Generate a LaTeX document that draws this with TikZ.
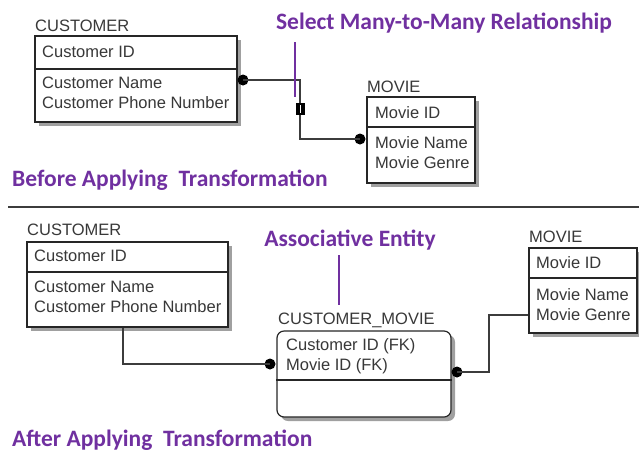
\documentclass[tikz,border=0pt]{standalone}
\usepackage{fontspec}
\setmainfont{Liberation Sans}
\newfontfamily\notefont{Carlito}
\usepackage{xcolor}
\usetikzlibrary{positioning,calc}
\definecolor{ink}{HTML}{262626}
\definecolor{wire}{HTML}{3C3C3C}
\definecolor{txtgray}{HTML}{383838}
\definecolor{notepurple}{HTML}{7030A0}
\definecolor{shadowgray}{HTML}{A0A0A0}
\tikzset{
  entbox/.style={draw=ink,fill=white,line width=1.2pt,inner sep=0pt,
                 preaction={fill=shadowgray,
                            transform canvas={xshift=4pt,yshift=-4pt}}},
  assocbox/.style={entbox,rounded corners=7pt},
  entname/.style={anchor=west,inner sep=0pt,text=txtgray,
                  font=\fontsize{16.5}{20}\selectfont},
  attr/.style={anchor=west,inner sep=0pt,text=txtgray,align=left,
               font=\fontsize{16.5}{20}\selectfont},
  divline/.style={draw=ink,line width=1.2pt},
  relline/.style={draw=wire,line width=1.4pt},
  fkdot/.style={circle,fill=black,inner sep=0pt,minimum size=11pt},
  optbar/.style={fill=black,inner sep=0pt,minimum width=9pt,minimum height=12pt},
  note/.style={text=notepurple,inner sep=0pt,
               font=\notefont\bfseries\fontsize{23.5}{28}\selectfont},
  noteline/.style={draw=notepurple,line width=1.2pt}
}
\begin{document}
\begin{tikzpicture}[x=1pt,y=-1pt]
    \path[use as bounding box] (0,0) rectangle (639,451);
    % before
    \node[entbox,minimum width=202pt,minimum height=86pt] (custA) at (136,79) {};
    \node[entname] (custAname) at (35,26) {CUSTOMER};
    \draw[divline] (custA.west |- 0,69) -- (custA.east |- 0,69);
    \node[attr] (custAkey) at (42,52) {Customer ID};
    \node[attr] (custAattr) at (42,93) {Customer Name\\Customer Phone Number};
    \node[entbox,minimum width=108pt,minimum height=86pt] (movieA) at (421,140) {};
    \node[entname] (movieAname) at (367,87) {MOVIE};
    \draw[divline] (movieA.west |- 0,127) -- (movieA.east |- 0,127);
    \node[attr] (movieAkey) at (375,113) {Movie ID};
    \node[attr] (movieAattr) at (375,153) {Movie Name\\Movie Genre};
    \node[fkdot] (dotA) at (243,80) {};
    \node[fkdot] (dotB) at (360,139) {};
    \coordinate (bendA) at (300,80);
    \draw[relline] (dotA.center) -- (bendA) |- (dotB.center);
    \node[optbar] (optA) at (300,109) {};
    \draw[white,line width=0.9pt] ([yshift=-2.5pt]optA.north) -- ([yshift=2.5pt]optA.south);
    \node[note] (selnote) at (444,23) {Select Many-to-Many Relationship};
    \draw[noteline] (295,42) -- (295,97);
    \node[note,anchor=west] (beforenote) at (12,180) {Before Applying~ Transformation};
    \draw[draw=wire,line width=1.5pt] (8,207) -- (639,207);
    % after
    \node[entbox,minimum width=201pt,minimum height=85pt] (custB) at (127.5,284.5) {};
    \node[entname] (custBname) at (27,230) {CUSTOMER};
    \draw[divline] (custB.west |- 0,272) -- (custB.east |- 0,272);
    \node[attr] (custBkey) at (34,256) {Customer ID};
    \node[attr] (custBattr) at (34,297) {Customer Name\\Customer Phone Number};
    \node[assocbox,minimum width=174pt,minimum height=86pt] (custmovie) at (364,374) {};
    \node[entname] (custmoviename) at (278,320) {CUSTOMER\_MOVIE};
    \draw[divline] (custmovie.west |- 0,380) -- (custmovie.east |- 0,380);
    \node[attr] (custmoviekeys) at (286,356) {Customer ID (FK)\\Movie ID (FK)};
    \node[entbox,minimum width=108pt,minimum height=85pt] (movieB) at (583,290.5) {};
    \node[entname] (movieBname) at (529,237) {MOVIE};
    \draw[divline] (movieB.west |- 0,278) -- (movieB.east |- 0,278);
    \node[attr] (movieBkey) at (536,263) {Movie ID};
    \node[attr] (movieBattr) at (536,304.5) {Movie Name\\Movie Genre};
    \node[fkdot] (dotC) at (270,364) {};
    \node[fkdot] (dotD) at (457,372) {};
    \draw[relline] ([xshift=-4.5pt]custB.south) |- (dotC.center);
    \coordinate (bendD) at (489,372);
    \draw[relline] (dotD.center) -- (bendD) |- (movieB.west |- 0,315);
    \node[note] (assocnote) at (350,240) {Associative Entity};
    \draw[noteline] (339,255) -- (339,305);
    \node[note,anchor=west] (afternote) at (12,440) {After Applying~ Transformation};
\end{tikzpicture}
\end{document}
